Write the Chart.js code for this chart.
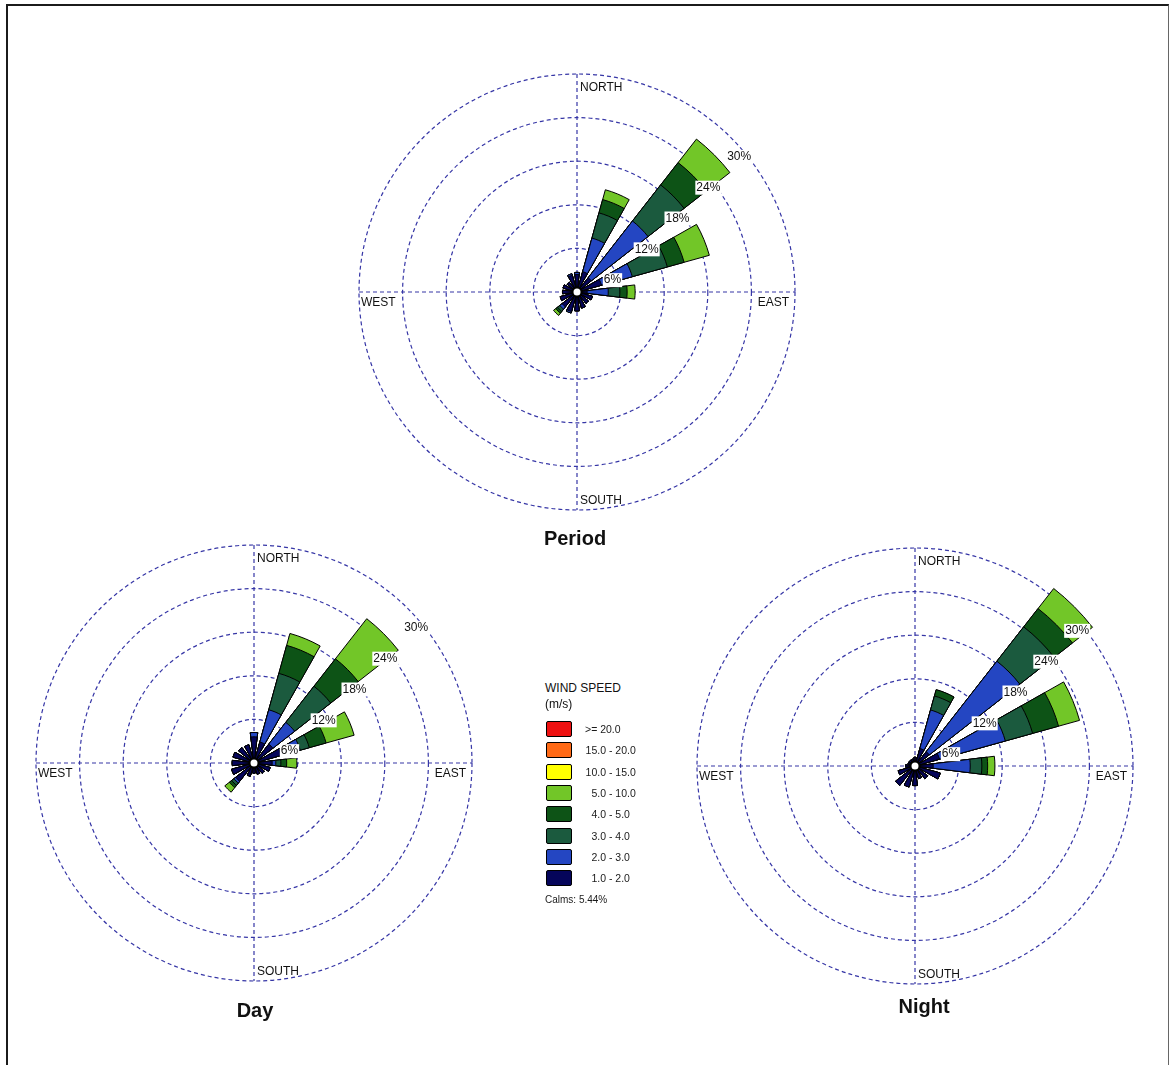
<!DOCTYPE html>
<html>
<head>
<meta charset="utf-8">
<title>Wind Roses</title>
<script src="https://cdn.jsdelivr.net/npm/chart.js@4.4.1/dist/chart.umd.min.js"></script>
<style>
  html, body { margin: 0; padding: 0; background: #ffffff; }
  body { width: 1171px; height: 1065px; position: relative; overflow: hidden;
         font-family: "Liberation Sans", Arial, sans-serif; color: #111; }
  .frame { position: absolute; left: 6px; top: 4px; width: 1160px; height: 1062px;
           border-left: 2px solid #1b1b1b; border-top: 2px solid #1b1b1b; border-right: 1px solid #666; }
  canvas.rose { position: absolute; }
  .title { position: absolute; font-weight: bold; font-size: 20px; transform: translate(-50%, -50%); white-space: nowrap; }
  .legend { position: absolute; left: 0; top: 0; font-size: 12px; }
  .legend .hd { position: absolute; white-space: nowrap; font-size: 12px; transform: translateY(-50%); }
  .legend .box { position: absolute; width: 24px; height: 14px; border: 1px solid #000; border-radius: 2px; }
  .legend .lbl { position: absolute; white-space: nowrap; font-size: 10.5px; color: #1a1a1a; transform: translateY(-50%); }
  .legend .lbl .n1 { display: inline-block; width: 21px; text-align: right; }
</style>
</head>
<body>
<div class="frame"></div>

<canvas id="rosePeriod" class="rose" width="480" height="480" style="left:337px;top:52px;width:480px;height:480px"></canvas>
<canvas id="roseDay" class="rose" width="480" height="480" style="left:14px;top:523px;width:480px;height:480px"></canvas>
<canvas id="roseNight" class="rose" width="480" height="480" style="left:675px;top:526px;width:480px;height:480px"></canvas>

<div class="title" style="left:575px;top:538px">Period</div>
<div class="title" style="left:255px;top:1010px">Day</div>
<div class="title" style="left:924px;top:1006px">Night</div>

<div id="legend" class="legend"></div>

<script>
// 16 compass sectors, clockwise from north
const DIRECTIONS = ['N', 'NNE', 'NE', 'ENE', 'E', 'ESE', 'SE', 'SSE', 'S', 'SSW', 'SW', 'WSW', 'W', 'WNW', 'NW', 'NNW'];

// Wind speed classes (m/s), legend order (fastest first)
const SPEED_CLASSES = ['>= 20.0', '15.0 - 20.0', '10.0 - 15.0', '5.0 - 10.0', '4.0 - 5.0', '3.0 - 4.0', '2.0 - 3.0', '1.0 - 2.0'];
const SPEED_COLORS  = ['#ee1111', '#ff6a16', '#ffff00', '#72c628', '#0d5316', '#1b5a3e', '#2446c2', '#05055a'];
const CALMS_PERCENT = 5.44;

// Frequency rings (%)
const RING_TICKS = [6, 12, 18, 24, 30];

// Period: frequency (%) per direction and speed class
const period_1_2  = [2.4, 2.9, 2.5, 3.5, 1.4, 2.2, 2.0, 2.3, 2.6, 2.8, 2.6, 2.4, 2.0, 2.0, 1.7, 2.4];
const period_2_3  = [0.3, 4.8, 9.9, 4.4, 2.9, 0.0, 0.0, 0.0, 0.0, 0.2, 0.4, 0.0, 0.0, 0.0, 0.0, 0.2];
const period_3_4  = [0.0, 3.6, 6.3, 5.0, 1.6, 0.0, 0.0, 0.0, 0.0, 0.0, 0.4, 0.0, 0.0, 0.0, 0.0, 0.0];
const period_4_5  = [0.0, 1.9, 3.9, 2.4, 1.0, 0.0, 0.0, 0.0, 0.0, 0.0, 0.3, 0.0, 0.0, 0.0, 0.0, 0.0];
const period_5_10 = [0.0, 1.4, 4.1, 3.6, 1.1, 0.0, 0.0, 0.0, 0.0, 0.0, 0.4, 0.0, 0.0, 0.0, 0.0, 0.0];

// Day
const day_1_2  = [3.6, 3.0, 3.3, 3.9, 2.5, 2.3, 1.8, 1.6, 1.4, 1.9, 3.2, 3.2, 3.0, 3.0, 2.7, 2.6];
const day_2_3  = [0.6, 4.6, 3.8, 2.7, 0.5, 0.0, 0.0, 0.0, 0.0, 0.0, 0.3, 0.0, 0.0, 0.0, 0.0, 0.0];
const day_3_4  = [0.0, 5.2, 6.3, 1.3, 0.7, 0.0, 0.0, 0.0, 0.0, 0.0, 0.4, 0.0, 0.0, 0.0, 0.0, 0.0];
const day_4_5  = [0.0, 4.0, 4.8, 2.4, 0.8, 0.0, 0.0, 0.0, 0.0, 0.0, 0.4, 0.0, 0.0, 0.0, 0.0, 0.0];
const day_5_10 = [0.0, 1.7, 7.0, 4.0, 1.4, 0.0, 0.0, 0.0, 0.0, 0.0, 0.8, 0.0, 0.0, 0.0, 0.0, 0.0];

// Night
const night_1_2  = [1.2, 2.5, 2.5, 3.5, 2.5, 3.6, 2.2, 1.8, 2.7, 3.0, 3.4, 2.4, 1.3, 1.0, 1.0, 1.0];
const night_2_3  = [0.0, 5.5, 15.8, 9.4, 5.1, 0.0, 0.0, 0.0, 0.0, 0.0, 0.0, 0.0, 0.0, 0.0, 0.0, 0.0];
const night_3_4  = [0.0, 2.0, 6.0, 3.9, 1.6, 0.0, 0.0, 0.0, 0.0, 0.0, 0.0, 0.0, 0.0, 0.0, 0.0, 0.0];
const night_4_5  = [0.0, 0.9, 3.2, 3.7, 0.8, 0.0, 0.0, 0.0, 0.0, 0.0, 0.0, 0.0, 0.0, 0.0, 0.0, 0.0];
const night_5_10 = [0.0, 0.0, 3.5, 3.0, 1.0, 0.0, 0.0, 0.0, 0.0, 0.0, 0.0, 0.0, 0.0, 0.0, 0.0, 0.0];

// ---- drawing setup ----
const SECTOR = 360 / DIRECTIONS.length;   // 22.5 degrees per direction
const PETAL = 14;                          // petal width in degrees, rest of sector left empty
const GRID_COLOR = '#3636a6';
const FONT = '"Liberation Sans", Arial, sans-serif';

// colours for the classes actually stacked, slowest first
const STACK_COLORS = SPEED_COLORS.slice(3).reverse();

// each direction becomes a petal followed by an empty gap slice
function withGaps(values) {
  const out = [];
  values.forEach(v => { out.push(v); out.push(0); });
  return out;
}
const SLICE_LABELS = withGaps(DIRECTIONS).map((v, i) => (i % 2 ? '' : v));

const roseDecor = {
  id: 'roseDecor',
  beforeDatasetsDraw(chart) {
    const s = chart.scales.r;
    const ctx = chart.ctx;
    const R = s.getDistanceFromCenterForValue(s.max);
    ctx.save();
    ctx.strokeStyle = GRID_COLOR;
    ctx.lineWidth = 1.2;
    ctx.setLineDash([4, 3]);
    ctx.beginPath();
    ctx.moveTo(s.xCenter - R, s.yCenter);
    ctx.lineTo(s.xCenter + R, s.yCenter);
    ctx.moveTo(s.xCenter, s.yCenter - R);
    ctx.lineTo(s.xCenter, s.yCenter + R);
    ctx.stroke();
    ctx.restore();
  },
  afterDatasetsDraw(chart) {
    const s = chart.scales.r;
    const ctx = chart.ctx;
    const cx = s.xCenter, cy = s.yCenter;
    const R = s.getDistanceFromCenterForValue(s.max);

    // calm circle
    ctx.save();
    ctx.beginPath();
    ctx.arc(cx, cy, 4.5, 0, Math.PI * 2);
    ctx.fillStyle = '#ffffff';
    ctx.fill();
    ctx.lineWidth = 2;
    ctx.strokeStyle = '#000000';
    ctx.stroke();

    // ring percentages along the north-east diagonal
    ctx.font = '12px ' + FONT;
    ctx.textAlign = 'left';
    ctx.textBaseline = 'middle';
    s.ticks.forEach(t => {
      if (t.value <= 0) return;
      const r = s.getDistanceFromCenterForValue(t.value);
      const x = cx + r * Math.SQRT1_2 - 4;
      const y = cy - r * Math.SQRT1_2 + 19;
      const txt = t.value + '%';
      const w = ctx.measureText(txt).width;
      ctx.fillStyle = '#ffffff';
      ctx.fillRect(x - 1, y - 7, w + 2, 14);
      ctx.fillStyle = '#111111';
      ctx.fillText(txt, x, y);
    });

    // compass words
    ctx.fillStyle = '#111111';
    ctx.fillText('NORTH', cx + 3, cy - R + 14);
    ctx.fillText('SOUTH', cx + 3, cy + R - 9);
    ctx.fillText('WEST', cx - R + 2, cy + 11);
    ctx.textAlign = 'right';
    ctx.fillText('EAST', cx + R - 6, cy + 11);
    ctx.restore();
  }
};

function makeRose(canvasId, classes) {
  // stack the speed classes: each dataset holds the running total up to its class
  let running = DIRECTIONS.map(() => 0);
  const datasets = classes.map((vals, k) => {
    running = running.map((v, i) => v + vals[i]);
    return {
      label: SPEED_CLASSES[SPEED_CLASSES.length - 1 - k],
      data: withGaps(running),
      backgroundColor: STACK_COLORS[k],
      borderColor: '#000000',
      borderWidth: ctx => (ctx.dataIndex % 2 ? 0 : 1),
      angle: ctx => (ctx.dataIndex % 2 ? SECTOR - PETAL : PETAL),
      clip: false
    };
  });

  return new Chart(document.getElementById(canvasId), {
    type: 'polarArea',
    data: { labels: SLICE_LABELS, datasets },
    options: {
      responsive: false,
      animation: false,
      events: [],
      layout: { padding: 22 },
      plugins: { legend: { display: false }, tooltip: { enabled: false } },
      scales: {
        r: {
          min: 0,
          max: RING_TICKS[RING_TICKS.length - 1],
          startAngle: -PETAL / 2,
          ticks: { display: false, stepSize: RING_TICKS[1] - RING_TICKS[0] },
          angleLines: { display: false },
          pointLabels: { display: false },
          grid: { circular: true, color: GRID_COLOR, lineWidth: 1.2 },
          border: { dash: [4, 3] }
        }
      }
    },
    plugins: [roseDecor]
  });
}

makeRose('rosePeriod', [period_1_2, period_2_3, period_3_4, period_4_5, period_5_10]);
makeRose('roseDay',    [day_1_2, day_2_3, day_3_4, day_4_5, day_5_10]);
makeRose('roseNight',  [night_1_2, night_2_3, night_3_4, night_4_5, night_5_10]);

// speed legend
(function buildLegend() {
  const el = document.getElementById('legend');
  let html = '<div class="hd" style="left:545px;top:688px">WIND SPEED</div>' +
             '<div class="hd" style="left:545px;top:704px">(m/s)</div>';
  SPEED_CLASSES.forEach((lab, i) => {
    const yc = 729 + i * 21.35;
    html += '<div class="box" style="left:546px;top:' + (yc - 8) + 'px;background:' + SPEED_COLORS[i] + '"></div>';
    const parts = lab.split(' - ');
    const text = parts.length === 2
      ? '<span class="n1">' + parts[0] + '</span> - ' + parts[1]
      : lab;
    html += '<div class="lbl" style="left:585px;top:' + yc + 'px">' + text + '</div>';
  });
  html += '<div class="lbl" style="left:545px;top:899px;font-size:10px">Calms: ' + CALMS_PERCENT.toFixed(2) + '%</div>';
  el.innerHTML = html;
})();
</script>
</body>
</html>
